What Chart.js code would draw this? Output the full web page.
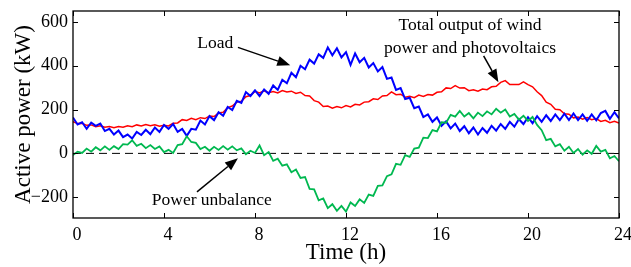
<!DOCTYPE html>
<html>
<head>
<meta charset="utf-8">
<script src="https://cdn.jsdelivr.net/npm/chart.js@4/dist/chart.umd.min.js"></script>
<style>
  html, body { margin: 0; padding: 0; background: #fff; }
  #wrap { width: 631px; height: 267px; }
</style>
</head>
<body>
<div id="wrap"><canvas id="powerChart" width="631" height="267"></canvas></div>
<script>
// samples every 0.2 h (kW)
const sampleStepH = 0.2;

const load = [
  164,132,142,112,140,
  126,136,102,112,86,
  104,74,86,68,98,
  84,108,88,118,98,
  130,112,134,98,112,
  80,112,108,150,132,
  170,152,188,172,212,
  198,240,230,280,262,
  288,262,292,272,310,
  290,336,320,368,348,
  400,384,428,410,452,
  436,484,448,480,438,
  462,404,456,416,436,
  392,412,374,394,340,
  346,290,298,248,254,
  206,214,166,178,144,
  164,126,146,114,136,
  102,124,92,118,86,
  116,94,126,104,134,
  112,144,122,156,134,
  165,138,170,144,174,
  148,178,152,181,152,
  182,152,178,149,178,
  151,184,194,158,188,
  160
];

const windPv = [
  145,136,137,128,130,
  122,126,119,123,117,
  123,119,126,122,130,
  125,132,126,131,124,
  128,125,138,139,154,
  150,160,154,163,159,
  170,168,184,188,209,
  216,234,238,259,264,
  283,276,286,277,282,
  276,287,280,284,274,
  279,264,262,241,234,
  214,216,206,214,208,
  218,212,224,221,234,
  236,249,246,262,264,
  281,268,270,256,261,
  254,266,260,269,266,
  279,281,299,296,309,
  298,300,286,290,284,
  294,291,304,306,324,
  332,314,314,314,326,
  314,304,281,264,234,
  224,201,199,181,179,
  162,166,156,164,154,
  159,146,151,140,146,
  138
];

const unbalance = [
  -8,8,2,22,8,
  28,14,32,16,33,
  20,42,40,60,34,
  44,24,38,20,32,
  6,16,2,38,42,
  78,52,48,20,30,
  12,30,16,33,17,
  32,14,23,-4,12,
  2,36,-8,6,-34,
  -24,-56,-50,-86,-74,
  -112,-108,-162,-164,-214,
  -206,-250,-232,-262,-240,
  -266,-224,-240,-210,-226,
  -188,-194,-148,-146,-104,
  -96,-48,-52,-8,-16,
  22,26,72,70,106,
  100,142,140,176,168,
  194,168,184,160,186,
  170,192,178,204,186,
  200,168,180,154,172,
  148,166,130,106,60,
  66,32,42,12,30,
  2,20,-6,14,-2,
  34,8,16,-22,-12,
  -36
];

const xTicks = [0, 4, 8, 12, 16, 20, 24];
const yTicks = [-200, 0, 200, 400, 600];

// annotation text and arrows, in data units (h, kW)
const notes = [
  { lines: ['Load'], at: [6.25, 502], arrow: [[7.25, 484], [9.55, 402]] },
  { lines: ['Total output of wind', 'power and photovoltaics'], at: [17.45, 585], arrow: [[18.05, 445], [18.7, 325]] },
  { lines: ['Power unbalance'], at: [6.1, -213], arrow: [[5.45, -176], [7.25, -22]] }
];

const toPoints = arr => arr.map((v, i) => ({ x: i * sampleStepH, y: v }));

const serif = "'Liberation Serif', 'Times New Roman', serif";

const frame = {
  id: 'frame',
  afterDatasetsDraw(chart) {
    const { ctx, chartArea: a, scales: { x, y } } = chart;
    ctx.save();
    ctx.strokeStyle = '#000';
    ctx.lineWidth = 1.3;
    ctx.strokeRect(a.left, a.top, a.right - a.left, a.bottom - a.top);
    ctx.lineWidth = 1;
    ctx.beginPath();
    xTicks.forEach(t => {
      const px = Math.round(x.getPixelForValue(t)) + 0.5;
      ctx.moveTo(px, a.bottom); ctx.lineTo(px, a.bottom - 5);
      ctx.moveTo(px, a.top); ctx.lineTo(px, a.top + 5);
    });
    yTicks.forEach(t => {
      const py = Math.round(y.getPixelForValue(t)) + 0.5;
      ctx.moveTo(a.left, py); ctx.lineTo(a.left + 5, py);
      ctx.moveTo(a.right, py); ctx.lineTo(a.right - 5, py);
    });
    ctx.stroke();

    // annotations
    ctx.fillStyle = '#000';
    ctx.font = '17.5px ' + serif;
    ctx.textAlign = 'center';
    ctx.textBaseline = 'middle';
    notes.forEach(n => {
      const cx = x.getPixelForValue(n.at[0]);
      const cy = y.getPixelForValue(n.at[1]);
      n.lines.forEach((s, i) => ctx.fillText(s, cx, cy + i * 23));
      const x0 = x.getPixelForValue(n.arrow[0][0]), y0 = y.getPixelForValue(n.arrow[0][1]);
      const x1 = x.getPixelForValue(n.arrow[1][0]), y1 = y.getPixelForValue(n.arrow[1][1]);
      const ang = Math.atan2(y1 - y0, x1 - x0);
      const hl = 13, hw = 5;
      const bx = x1 - hl * Math.cos(ang), by = y1 - hl * Math.sin(ang);
      ctx.lineWidth = 1.5;
      ctx.beginPath();
      ctx.moveTo(x0, y0); ctx.lineTo(bx, by);
      ctx.stroke();
      ctx.beginPath();
      ctx.moveTo(x1, y1);
      ctx.lineTo(bx + hw * Math.sin(ang), by - hw * Math.cos(ang));
      ctx.lineTo(bx - hw * Math.sin(ang), by + hw * Math.cos(ang));
      ctx.closePath();
      ctx.fill();
    });
    ctx.restore();
  }
};

new Chart(document.getElementById('powerChart'), {
  type: 'line',
  data: {
    datasets: [
      { label: 'Power unbalance', data: toPoints(unbalance), borderColor: '#00B850', borderWidth: 1.8 },
      { label: 'Load', data: toPoints(load), borderColor: '#0000FF', borderWidth: 2 },
      { label: 'Total output of wind power and photovoltaics', data: toPoints(windPv), borderColor: '#FF0000', borderWidth: 1.5 },
      { label: 'zero', data: [{ x: 0, y: 0 }, { x: 24, y: 0 }], borderColor: '#000', borderWidth: 1, borderDash: [8, 5] }
    ]
  },
  options: {
    responsive: false,
    animation: false,
    devicePixelRatio: 1,
    layout: { padding: { top: 11, right: 12, left: 0, bottom: 0 } },
    elements: { point: { radius: 0 }, line: { tension: 0 } },
    plugins: { legend: { display: false }, tooltip: { enabled: false } },
    scales: {
      x: {
        type: 'linear', min: 0, max: 24,
        afterBuildTicks: s => { s.ticks = xTicks.map(v => ({ value: v })); },
        afterFit: s => { s.height = 49; s.paddingLeft = 0; s.paddingRight = 0; },
        grid: { display: false, drawTicks: false },
        border: { display: false },
        ticks: { color: '#000', font: { family: serif, size: 18 }, padding: 6, labelOffset: 4, maxRotation: 0 },
        title: { display: true, text: 'Time (h)', color: '#000', font: { family: serif, size: 23 }, padding: 0 }
      },
      y: {
        type: 'linear', min: -295, max: 650,
        afterBuildTicks: s => { s.ticks = yTicks.map(v => ({ value: v })); },
        afterFit: s => { s.width = 73; s.paddingTop = 0; s.paddingBottom = 0; },
        grid: { display: false, drawTicks: false },
        border: { display: false },
        ticks: { color: '#000', font: { family: serif, size: 18 }, padding: 5,
                 callback: v => String(v).replace('-', '\u2212') },
        title: { display: true, text: 'Active power (kW)', color: '#000', font: { family: serif, size: 23 }, padding: { top: 10, bottom: 0 } }
      }
    }
  },
  plugins: [frame]
});
</script>
</body>
</html>
